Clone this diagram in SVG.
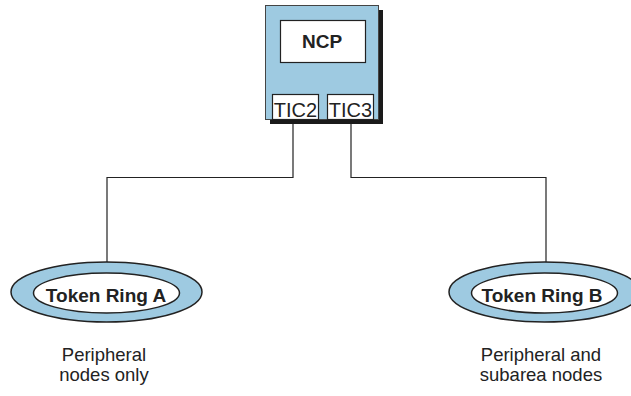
<svg xmlns="http://www.w3.org/2000/svg" width="631" height="396" viewBox="0 0 631 396">
<style>
.box{fill:#9ecae1;stroke:#444;stroke-width:1}
.white{fill:#fff;stroke:#222;stroke-width:1.2}
.ring{fill:#9ecae1;stroke:#222;stroke-width:1.5}
.inner{fill:#fff;stroke:#222;stroke-width:1.5}
.conn{fill:none;stroke:#222;stroke-width:1.2}
.b{font-family:"Liberation Sans",Arial,sans-serif;font-weight:bold;fill:#222;text-anchor:middle}
.r{font-family:"Liberation Sans",Arial,sans-serif;fill:#222;text-anchor:middle}
</style>
<rect width="631" height="396" fill="#fff"/>
<g id="connectors">
<polyline class="conn" points="293,119 293,177.5 107,177.5 107,262"/>
<polyline class="conn" points="351,119 351,177.5 546,177.5 546,262"/>
</g>
<g id="ncp">
<rect x="270" y="10" width="113" height="114" fill="#1a1a1a"/>
<rect class="box" x="265.5" y="5.5" width="113" height="114"/>
<rect class="white" x="280.5" y="20.5" width="85" height="42"/>
<text class="b" x="322" y="48" font-size="19">NCP</text>
</g>
<g id="tic2">
<rect class="white" x="272.5" y="94.5" width="46" height="25"/>
<text class="r" x="295.5" y="117" font-size="20">TIC2</text>
</g>
<g id="tic3">
<rect class="white" x="327.5" y="94.5" width="46" height="25"/>
<text class="r" x="350.5" y="117" font-size="20">TIC3</text>
</g>
<g id="ringA">
<ellipse class="ring" cx="106.5" cy="292" rx="95.5" ry="30"/>
<ellipse class="inner" cx="106.5" cy="293" rx="73" ry="20"/>
<text class="b" x="106" y="302" font-size="19">Token Ring A</text>
</g>
<g id="ringB">
<ellipse class="ring" cx="544.5" cy="292" rx="95.5" ry="30"/>
<ellipse class="inner" cx="544.5" cy="293" rx="73" ry="20"/>
<text class="b" x="542" y="302" font-size="19">Token Ring B</text>
</g>
<g id="labelA">
<text class="r" x="104" y="361" font-size="18.5">Peripheral</text>
<text class="r" x="104" y="381" font-size="18.5">nodes only</text>
</g>
<g id="labelB">
<text class="r" x="541" y="361" font-size="18.5">Peripheral and</text>
<text class="r" x="541" y="381" font-size="18.5">subarea nodes</text>
</g>
</svg>
